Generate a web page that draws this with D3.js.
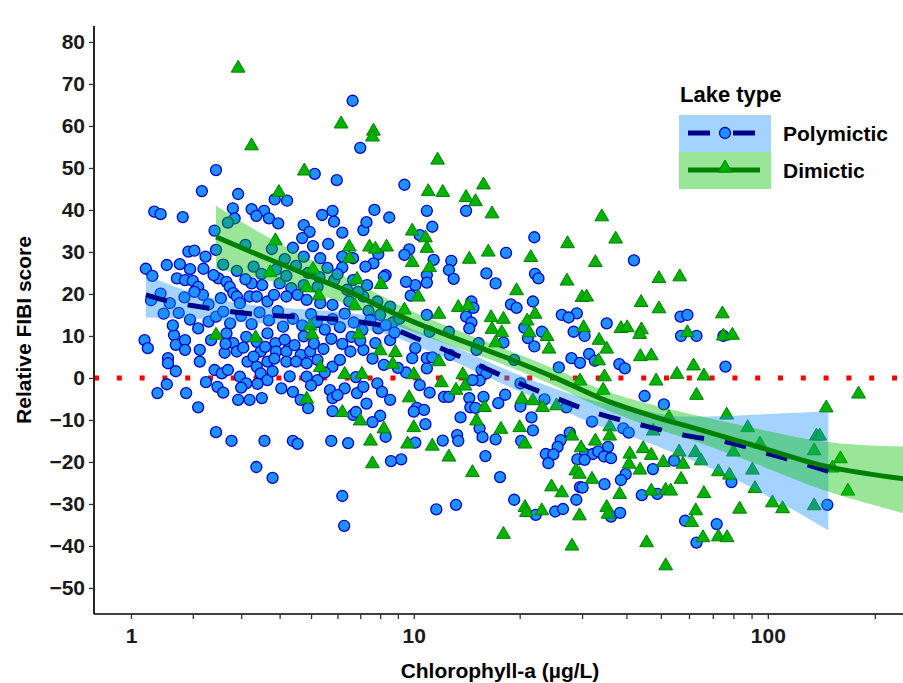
<!DOCTYPE html>
<html><head><meta charset="utf-8">
<script src="https://cdn.jsdelivr.net/npm/d3@7"></script>
<style>
body{margin:0;background:#fff}
svg{display:block}
text{font-family:"Liberation Sans",Arial,Helvetica,sans-serif;font-weight:bold}
</style>
</head><body>
<svg id="chart" width="903" height="683"></svg>
<script>
// ---------- DATA ----------
const xTickValues=[1,2,3,4,5,6,7,8,9,10,20,30,40,50,60,70,80,90,100,200];
const xTickLabels=["1","","","","","","","","","10","","","","","","","","","100",""];
const yTickValues=[-50,-40,-30,-20,-10,0,10,20,30,40,50,60,70,80];
const xDomain=[0.488,240];
const yDomain=[-56.2,83.8];
const seriesNames=["Polymictic","Dimictic"];

// Polymictic lakes: [chlorophyll-a, relative FIBI score]
const polyPoints=[
[9.4,46.0],[10.9,39.8],[14.1,39.8],[11.3,36.0],[10.4,34.0],[22.0,33.5],[9.7,30.6],[9.4,29.3],[18.3,29.8],[11.4,28.1],[12.8,27.9],[12.6,25.7],[13.0,23.6],[10.9,24.5],[10.9,22.7],[10.1,22.1],[16.1,24.9],[17.1,22.5],[22.1,24.8],[22.6,23.7],[42.0,28.0],[9.5,22.9],[9.8,19.6],[21.8,18.2],[14.6,18.2],[14.8,16.7],[18.9,17.5],[19.6,16.7],[29.0,15.4],[26.3,15.0],[27.5,14.4],[10.9,15.0],[14.1,14.6],[14.6,13.2],[14.4,11.8],[35.2,13.0],[56.8,14.6],[59.4,15.0],[57,10.0],[63,10.0],[75,10.0],[20.6,12.0],[23.1,11.0],[28.4,11.0],[30.5,10.0],[21.1,9.5],[22.0,7.5],[18.0,8.4],[15.3,8.3],[12.6,11.0],[11.1,11.0],[10.1,7.1],[9.9,4.7],[10.9,4.7],[11.3,4.9],[12.7,5.5],[15.1,6.7],[28.0,4.7],[29.6,3.6],[31.4,5.7],[32.6,4.1],[38.2,3.3],[39.6,2.3],[25.8,2.5],[19.3,4.3],[76,2.7],[10.9,2.3],[9.5,1.3],[15.6,1.9],[16.1,1.1],[15.4,-0.6],[14.7,-0.5],[10.4,-1.7],[11.1,-3.5],[12.2,-4.5],[12.6,-4.5],[14.4,-4.8],[15.8,-4.5],[17.4,-6.0],[18.2,-4.0],[20.1,-1.3],[20.1,-6.8],[23.5,-5.1],[27.1,-7.0],[45,-4.3],[51,-6.3],[10.2,-7.1],[10.7,-7.6],[10.0,-8.0],[14.5,-7.0],[15.0,-7.1],[13.6,-9.4],[21.6,-9.4],[10.8,-11.0],[15.4,-12.0],[21.8,-12.5],[32.0,-10.4],[39.2,-12.0],[40.6,-13.0],[13.3,-13.6],[13.4,-15.0],[15.7,-14.1],[17.1,-14.6],[20.2,-15.0],[10.1,-15.4],[12.1,-14.9],[26.1,-14.8],[27.7,-13.0],[25.6,-16.4],[35.5,-16.4],[9.2,-19.4],[16.0,-18.6],[23.7,-18.1],[24.9,-18.2],[24.1,-20.3],[30.6,-18.1],[32.2,-18.1],[33.3,-17.5],[34.6,-18.7],[36.2,-19.1],[29.1,-19.4],[30.5,-19.5],[54.5,-19.7],[47.5,-21.7],[39.8,-22.9],[38.6,-24.3],[17.6,-23.6],[79,-24.8],[34.7,-25.3],[29.6,-26.0],[30.1,-26.1],[44.2,-27.9],[48.9,-27.6],[19.3,-29.0],[28.9,-29.0],[11.6,-31.3],[13.2,-30.2],[22.2,-32.6],[25.2,-31.8],[26.5,-31.2],[36.2,-33.0],[38.4,-32.1],[58.5,-34.0],[71.8,-34.8],[63,-39.2],
[2.17,44.5],[2.93,43.8],[5.97,47.1],[5.13,48.6],[2.45,49.5],[1.35,39.6],[1.45,39.0],[1.82,38.3],[2.81,40.4],[3.25,40.2],[3.57,39.8],[3.37,38.6],[3.70,38.0],[3.86,42.5],[4.22,42.2],[3.96,36.8],[2.85,38.0],[2.70,37.0],[2.42,35.1],[5.40,38.8],[5.80,39.8],[5.86,37.2],[7.70,40.0],[8.50,38.2],[4.75,36.4],[4.95,34.8],[4.70,33.3],[6.20,34.6],[7.15,35.2],[7.30,37.1],
[1.92,30.1],[2.03,30.3],[2.24,28.9],[2.45,30.5],[3.10,31.7],[3.78,30.7],[4.40,31.0],[4.15,28.3],[5.07,31.4],[5.63,31.9],[4.75,28.9],[5.33,28.5],[6.20,28.9],[6.67,28.5],[7.90,29.5],[7.65,27.3],[8.30,24.5],[7.25,26.5],[6.20,26.3],[1.22,26.0],[1.32,24.3],[1.55,26.9],[1.77,27.1],[1.95,25.9],[1.72,23.7],[1.86,23.3],[2.00,23.1],[2.10,21.7],[2.19,19.8],[2.03,20.5],[2.50,23.7],[2.67,22.9],[2.74,21.7],[2.82,20.2],[3.25,22.5],[3.52,22.1],[4.00,22.5],[4.35,21.4],[4.75,22.1],[5.23,21.7],[5.87,23.3],[6.67,23.3],[7.33,22.1],[8.20,24.1],
[2.30,13.4],[2.45,14.6],[2.60,15.8],[2.90,19.4],[2.97,17.8],[3.20,19.4],[3.38,19.4],[3.66,18.2],[3.84,19.8],[4.20,19.4],[4.55,19.8],[4.85,18.6],[5.33,17.8],[5.80,17.4],[6.50,18.2],[7.15,19.4],[7.85,18.2],[8.55,17.0],
[1.67,10.2],[1.70,7.9],[1.86,9.0],[1.86,6.7],[2.13,6.7],[1.57,4.7],[1.57,3.5],[2.13,3.9],[2.67,10.6],[2.82,8.3],[2.63,6.0],[2.90,6.3],[3.12,9.8],[3.38,8.6],[3.66,10.6],[3.88,8.3],[3.48,6.3],[3.90,6.3],[4.20,6.3],[4.65,5.5],[4.97,6.3],[3.15,3.9],[3.38,2.7],[3.66,3.9],[4.20,3.9],[4.50,3.9],[4.85,3.5],[5.23,4.3],[5.80,2.7],[6.10,4.3],[6.55,6.3],[7.15,6.7],[7.75,8.3],[8.55,9.0],
[2.42,1.9],[2.57,1.1],[2.70,1.9],[2.97,0.3],[3.12,-1.3],[3.48,1.1],[3.66,-0.5],[4.05,-2.5],[4.40,-3.3],[4.65,-5.2],[4.85,0.3],[5.23,-0.5],[5.70,-2.9],[5.80,-4.8],[6.30,-2.5],[6.85,-3.6],[7.15,-2.1],[7.85,-1.3],[8.55,-5.2],[1.88,-3.6],[2.48,-2.1],[2.93,-5.2],[3.20,-5.2],[3.51,-4.8],[2.10,-7.0],[4.90,-7.2],[6.67,-8.8],
[6.65,66.0],[7.0,54.8],[2.78,-15.0],[2.45,-12.9],[3.37,-21.2],[3.80,-23.8],[3.58,-15.0],[4.40,-15.0],[4.55,-15.7],[6.20,-28.1],[6.28,-35.2],[5.75,-15.0],[6.45,-15.5],[6.80,-8.1],[8.00,-9.0],[8.30,-14.0],[8.60,-19.8],[7.6,-10.5],[5.8,-7.9],[1.40,-3.6],[1.2,9.0],[1.25,7.1],[147,-30.2],
[2.2,26],[2.4,24.5],[2.6,27],[2.9,25.5],[3.1,23.5],[3.3,26.5],[3.5,24.8],[3.9,25.8],[4.2,24.3],[4.5,26.7],[4.9,25],[5.3,24],[5.6,26.2],[6.0,24.7],[6.4,21],[6.9,20.5],[7.4,16],[8.0,15],[8.7,13.2],[2.3,17.5],[2.55,19],[2.75,13],[3.0,14.8],[3.25,12.8],[3.45,15.6],[3.7,13.7],[3.95,15.9],[4.1,12.2],[4.4,14.1],[4.7,12.5],[5.0,15.2],[5.2,13.3],[5.5,11.5],[5.8,14],[6.1,12.1],[6.3,15.3],[6.7,13.2],[7.1,11.4],[7.5,13.8],[7.9,11.8],[8.3,12.6],[8.8,10.8],[9.1,14.1],[2.1,11.8],[2.35,9],[2.65,8.1],[3.05,7.2],[3.3,5.1],[3.6,7.4],[3.85,4.6],[4.15,9.1],[4.45,7.8],[4.75,9.9],[5.1,8.2],[5.45,6.9],[5.75,9.3],[6.2,8.1],[6.6,9.8],[7.0,8.9],[7.6,4.6],[8.2,3.1],[9.0,2.4],[1.75,15.5],[1.95,13.9],[1.6,17.8],[1.45,20.1],[1.65,12.5],[1.5,15.3],[1.3,18.5],[1.85,19.2],[2.25,-1],[2.6,-3.5],[3.0,-2.3],[3.4,-1.4],[3.8,1.6],[4.3,0.4],[5.0,-1.8],[5.5,1.3],[6.0,-4.1],[6.8,0.2],[7.3,-6.1],[8.1,-3.3],[1.7,1.6],[1.55,-1.5]
];

// Dimictic lakes: [chlorophyll-a, relative FIBI score]
const dimPoints=[
[11.7,52.1],[11.0,44.6],[12.1,44.4],[15.8,46.2],[14.1,43.2],[15.0,42.2],[16.7,39.3],[34.1,38.6],[37.3,33.3],[27.3,32.2],[9.9,35.2],[10.8,33.6],[10.9,31.1],[16.3,30.2],[14.4,28.5],[21.5,28.9],[32.7,27.7],[9.9,27.7],[11.1,26.5],[27.2,23.3],[49.4,23.9],[56.5,24.3],[19.6,21.0],[30.0,19.4],[30.9,19.5],[10.3,19.5],[44.0,18.2],[49.4,16.7],[74.5,15.5],[9.4,16.4],[11.8,15.4],[13.4,17.0],[14.3,17.4],[16.6,14.6],[18.0,14.2],[22.1,15.4],[21.0,13.8],[30.3,12.2],[38.6,12.0],[40.2,12.2],[44.1,11.7],[43.6,10.6],[59.4,11.0],[75,10.2],[79.5,10.4],[16.7,11.8],[17.8,11.0],[21.3,11.0],[23.9,10.1],[33.5,9.2],[35.2,7.1],[24.2,7.1],[17.1,8.6],[43.8,5.3],[47,5.5],[33.4,4.3],[61.8,3.1],[11.8,4.1],[10.0,1.0],[13.8,1.0],[55.5,1.1],[66.1,0.7],[34.7,0.5],[29.6,-0.5],[48.5,-0.5],[12.0,-0.9],[14.0,-1.7],[13.2,-2.7],[34.4,-2.7],[63,-3.9],[9.7,-4.5],[20.3,-4.8],[23.2,-6.8],[15.9,-6.8],[21.8,-5.2],[25.4,-6.4],[76.6,-8.6],[52.7,-9.2],[15.1,-10],[10.0,-11.6],[17.7,-12.0],[20.0,-11.6],[35.9,-11.4],[87.8,-11.6],[47.6,-12.4],[28.1,-13.6],[35.9,-13.6],[9.6,-15.5],[11.3,-16.0],[20.7,-15.5],[32.7,-14.8],[95,-15.5],[29.8,-16.4],[40.9,-17.9],[44.6,-16.6],[47,-18.2],[56.3,-17.4],[62.5,-17.5],[80,-17.4],[135,-17.1],[137,-13.6],[12.6,-18.6],[40.7,-20.3],[50.8,-19.9],[57.7,-20.3],[64.9,-19.5],[28.8,-21.9],[29.5,-22.7],[43.7,-21.7],[14.7,-22.3],[72.6,-22.1],[78,-22.9],[90.5,-21.7],[32.0,-23.9],[57,-23.9],[24.6,-25.7],[26.3,-27.1],[38.3,-27.5],[47,-26.7],[51.6,-26.5],[53.3,-26.7],[66.1,-27.3],[92,-26.1],[83.3,-31.0],[103,-29.5],[110,-30.9],[135,-30.2],[20.7,-30.6],[20.9,-31.8],[23.1,-31.4],[29.5,-32.6],[35.2,-30.6],[35.5,-32.2],[62.7,-31.4],[61.1,-34.2],[65.7,-37.8],[72.6,-37.6],[76.8,-37.8],[18.0,-37.0],[28.1,-39.8],[45.6,-39.0],[51.6,-44.5],
[3.98,44.4],[4.77,49.5],[3.88,32.9],[6.50,31.4],[7.45,31.4],[7.75,30.9],[8.35,31.4],[6.50,28.7],[3.73,25.3],[5.07,26.1],[6.85,23.7],[8.05,22.5],[4.85,21.7],[5.28,19.8],[6.75,17.4],[2.45,10.4],[3.35,9.8],[4.97,12.6],[5.03,10.6],[6.93,10.6],[8.00,6.7],[8.85,6.3],[8.70,3.5],[5.33,2.7],[6.30,1.1],[7.08,1.1],[4.85,-4.8],[6.20,-8.0],
[2.93,74.0],[3.25,55.5],[6.15,60.7],[7.65,59.0],[7.6,57.6],[7.6,-20.2],[8.2,-11.9],[7.0,-10.0],[7.5,-14.8],[180,-3.6],[146,-6.9],[140,-13.6],[168,-26.7],[160,-19.0],[152,-21.2]
];

// Fitted curves with confidence band: [chlorophyll-a, fit, lower, upper]
const polyFit=[
[1.22,19.8,14.4,24.5],[1.6,18.2,14.3,22.2],[2.1,17.0,14.1,19.9],[3.1,15.4,13.2,17.6],[4.6,14.5,12.6,16.4],[6.6,13.6,11.8,15.4],[8.5,12.0,10.3,13.8],[10.2,9.4,7.6,11.2],[12,7.0,5.2,8.8],[14.2,4.3,2.5,6.1],[19,-0.5,-2.4,1.4],[24,-4,-6.1,-1.9],[33,-8.4,-11.2,-5.6],[44,-11.2,-14.8,-7.6],[58,-13.6,-18.8,-9.2],[80,-15.6,-23.9,-9.0],[100,-18,-28.2,-8.6],[125,-20.3,-32.6,-8.2],[148,-22.2,-36.3,-7.9]
];
const dimFit=[
[2.45,33.6,26.0,41.0],[3.5,29.0,23.6,34.4],[4.65,25.2,21.0,29.4],[6.5,20.5,17.4,23.6],[9.2,14.6,12.1,17.1],[13,9.6,7.5,11.7],[18,5.1,3.2,7.0],[25,0.2,-1.8,2.2],[33.7,-4.8,-7.0,-2.6],[47,-9.0,-11.7,-6.3],[65,-12.4,-15.6,-9.2],[95,-16.5,-20.8,-12.2],[140,-20.7,-26.4,-15.0],[240,-24.0,-32.2,-16.3],[300,-25.0,-34.5,-15.5]
];

// ---------- CHART ----------
const svg=d3.select("#chart");
const L=94,R=903,T0=26,B=614;
const FONT="'Liberation Sans',Arial,sans-serif";
const tr=v=>Math.asinh(v/2)/Math.LN10; // pseudo-log transform
const xs=d3.scaleLinear().domain(xDomain.map(tr)).range([L,R]);
const X=v=>xs(tr(v));
const ys=d3.scaleLinear().domain(yDomain).range([B,T0]);

const blueFill="#1E90FF",blueStroke="#0000CD",blueLine="#00008B";
const greenFill="#00B300",greenStroke="#008000",greenLine="#008000";

svg.append("defs").append("clipPath").attr("id","clip")
  .append("rect").attr("x",L).attr("y",T0).attr("width",R-L).attr("height",B-T0);

const plot=svg.append("g").attr("clip-path","url(#clip)");

// zero reference line
plot.append("line").attr("x1",L).attr("x2",R).attr("y1",ys(0)).attr("y2",ys(0))
  .attr("stroke","#FF0000").attr("stroke-width",5).attr("stroke-dasharray","5 17.8");

// points
plot.append("g").selectAll("circle").data(polyPoints).join("circle")
  .attr("cx",d=>X(d[0])).attr("cy",d=>ys(d[1])).attr("r",5.5)
  .attr("fill",blueFill).attr("stroke",blueStroke).attr("stroke-width",1.3);

const tri=d3.symbol().type(d3.symbolTriangle).size(82);
plot.append("g").selectAll("path").data(dimPoints).join("path")
  .attr("d",tri).attr("transform",d=>`translate(${X(d[0])},${ys(d[1])+1})`)
  .attr("fill",greenFill).attr("stroke",greenStroke).attr("stroke-width",1);

// ribbons
const area=d3.area().x(d=>X(d[0])).y0(d=>ys(d[2])).y1(d=>ys(d[3])).curve(d3.curveMonotoneX);
plot.append("path").datum(polyFit).attr("d",area).attr("fill",blueFill).attr("fill-opacity",0.4);
plot.append("path").datum(dimFit).attr("d",area).attr("fill","#00C000").attr("fill-opacity",0.4);

// lines
const line=d3.line().x(d=>X(d[0])).y(d=>ys(d[1])).curve(d3.curveMonotoneX);
plot.append("path").datum(polyFit).attr("d",line).attr("fill","none")
  .attr("stroke",blueLine).attr("stroke-width",5).attr("stroke-dasharray","22 21");
plot.append("path").datum(dimFit).attr("d",line).attr("fill","none")
  .attr("stroke",greenLine).attr("stroke-width",5);

// axes
const gx=svg.append("g").attr("transform",`translate(0,${B})`)
  .call(d3.axisBottom(xs).tickValues(xTickValues.map(tr)).tickSize(5).tickSizeOuter(0).tickPadding(9)
  .tickFormat((d,i)=>xTickLabels[i]));
const gy=svg.append("g").attr("transform",`translate(${L},0)`)
  .call(d3.axisLeft(ys).tickValues(yTickValues).tickSize(5).tickSizeOuter(0).tickPadding(4));
[gx,gy].forEach(g=>{
  g.select(".domain").attr("stroke","#000").attr("stroke-width",1.7);
  g.selectAll(".tick line").attr("stroke","#333").attr("stroke-width",1.3);
  g.selectAll(".tick text").attr("fill","#1a1a1a").style("font-size","21px").style("font-weight","bold")
   .style("font-family",FONT);
});
gy.select(".domain").attr("d",`M0,${T0}V${B}`);
gx.select(".domain").attr("d",`M${L},0H${R}`);

// axis titles
svg.append("text").attr("x",500).attr("y",678).attr("text-anchor","middle")
  .style("font-size","21px").attr("fill","#000").text("Chlorophyll-a (µg/L)");
svg.append("text").attr("transform","translate(31,330) rotate(-90)").attr("text-anchor","middle")
  .style("font-size","21px").attr("fill","#000").text("Relative FIBI score");

// legend
const lg=svg.append("g");
lg.append("text").attr("x",680).attr("y",102).style("font-size","22px").attr("fill","#000").text("Lake type");
const keyY=[115,152];
lg.append("rect").attr("x",679).attr("y",keyY[0]).attr("width",92).attr("height",37).attr("fill",blueFill).attr("fill-opacity",0.4);
lg.append("rect").attr("x",679).attr("y",keyY[1]).attr("width",92).attr("height",37).attr("fill","#00C000").attr("fill-opacity",0.4);
lg.append("line").attr("x1",688).attr("x2",760).attr("y1",133).attr("y2",133)
  .attr("stroke",blueLine).attr("stroke-width",5).attr("stroke-dasharray","22 23");
lg.append("circle").attr("cx",725).attr("cy",133).attr("r",5.5).attr("fill",blueFill).attr("stroke",blueStroke).attr("stroke-width",1.3);
lg.append("line").attr("x1",688).attr("x2",760).attr("y1",170).attr("y2",170)
  .attr("stroke",greenLine).attr("stroke-width",5);
lg.append("path").attr("d",tri).attr("transform","translate(725,168)").attr("fill",greenFill).attr("stroke",greenStroke);
lg.append("text").attr("x",783).attr("y",141).style("font-size","21px").attr("fill","#000").text(seriesNames[0]);
lg.append("text").attr("x",783).attr("y",178).style("font-size","21px").attr("fill","#000").text(seriesNames[1]);
</script>
</body></html>
